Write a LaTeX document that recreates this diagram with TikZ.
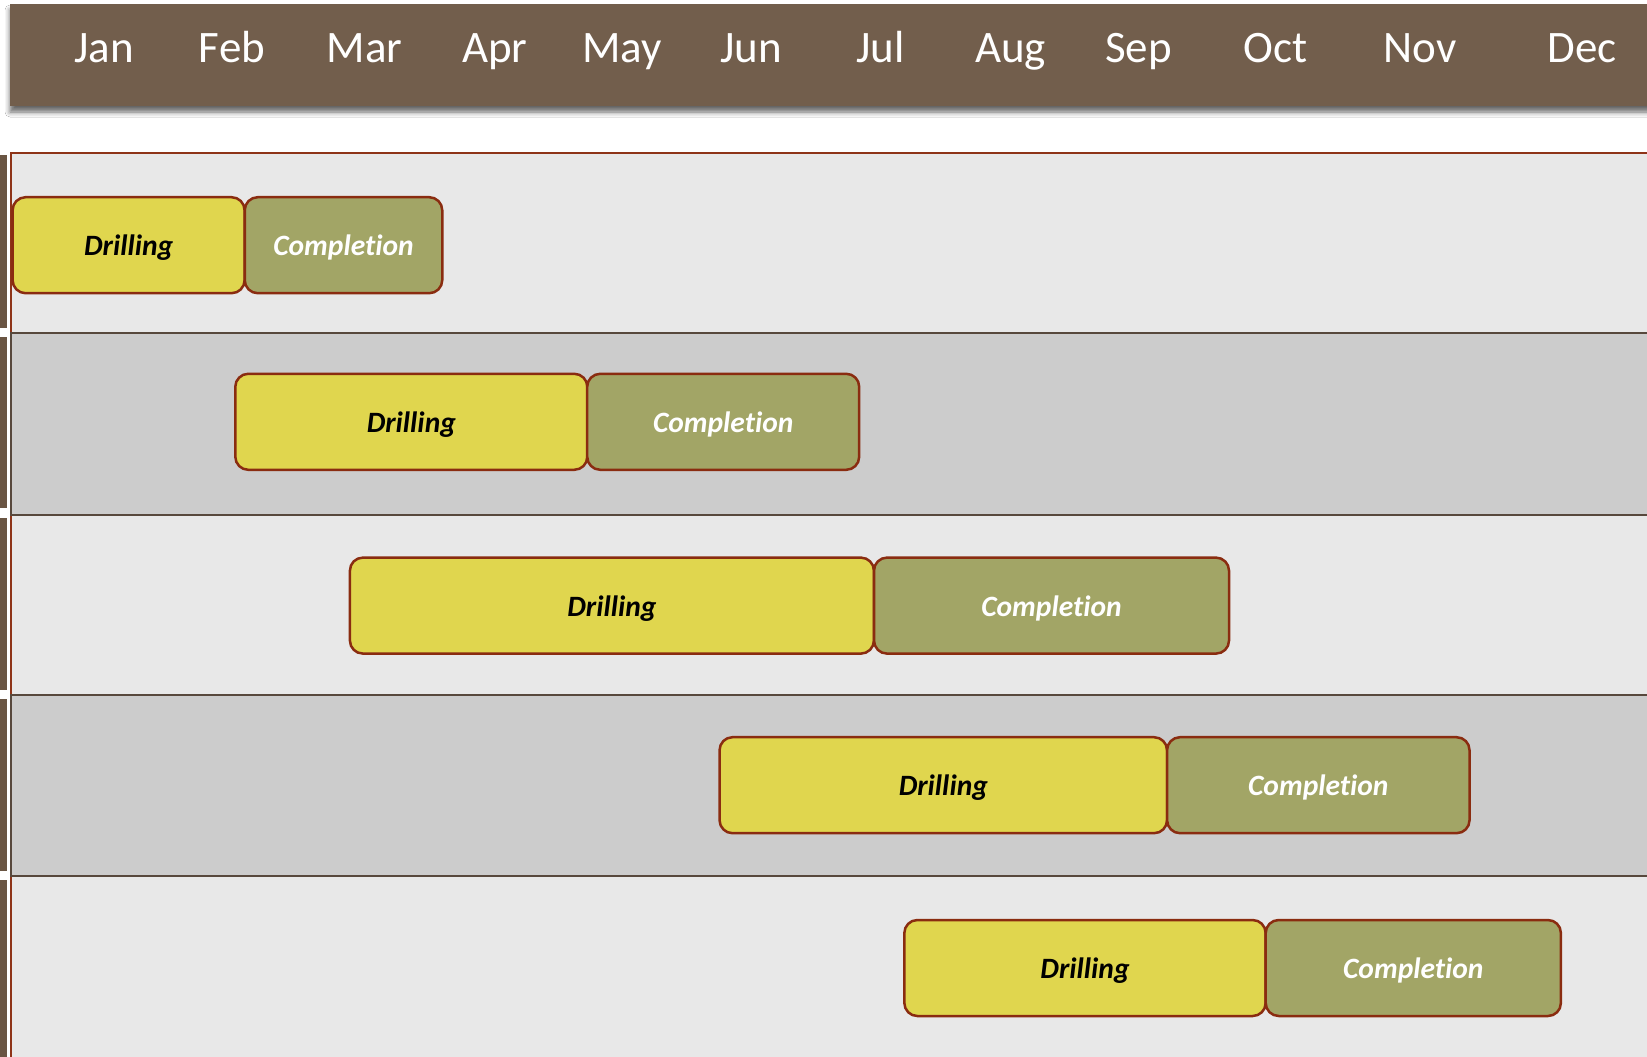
\documentclass[tikz,border=0pt]{standalone}
\usepackage{fontspec}
\setmainfont{Carlito}[Ligatures=NoCommon]
\usetikzlibrary{shadows.blur}
\definecolor{hdr}{HTML}{725E4C}
\definecolor{strip}{HTML}{6A5543}
\definecolor{rowlight}{HTML}{E8E8E8}
\definecolor{rowdark}{HTML}{CCCCCC}
\definecolor{redline}{HTML}{8E3418}
\definecolor{darkline}{HTML}{57483C}
\definecolor{drillfill}{HTML}{E0D64E}
\definecolor{compfill}{HTML}{A2A566}
\definecolor{barline}{HTML}{8A2C10}
\begin{document}
\begin{tikzpicture}[x=1pt,y=-1pt,
  month/.style={text=white,font=\fontsize{45}{48}\selectfont,inner sep=0pt,anchor=base},
  barbox/.style={draw=barline,line width=2.5pt,rounded corners=13pt,minimum height=96pt,inner sep=0pt,text height=21pt,text depth=0pt,font=\fontsize{29.5}{32}\selectfont\bfseries\itshape},
  drillbox/.style={barbox,fill=drillfill,text=black},
  compbox/.style={barbox,fill=compfill,text=white},
  lightrow/.style={fill=rowlight,draw=redline,line width=2pt},
  darkrow/.style={fill=rowdark,draw=darkline,line width=2.2pt},
  stripbox/.style={fill=strip}]
\useasboundingbox (0,0) rectangle (1647,1057);
\fill[white] (0,0) rectangle (1647,1057);
% header
\fill[hdr,blur shadow={shadow xshift=0pt,shadow yshift=-6pt,shadow blur radius=5pt,shadow opacity=60}] (10,4) rectangle (1660,106);
\node[month] (m1) at (104,63) {Jan};
\node[month] (m2) at (232,63) {Feb};
\node[month] (m3) at (364.5,63) {Mar};
\node[month] (m4) at (494.7,63) {Apr};
\node[month] (m5) at (621.8,63) {May};
\node[month] (m6) at (751,63) {Jun};
\node[month] (m7) at (880.2,63) {Jul};
\node[month] (m8) at (1010.5,63) {Aug};
\node[month] (m9) at (1138.6,63) {Sep};
\node[month] (m10) at (1275.2,63) {Oct};
\node[month] (m11) at (1420.1,63) {Nov};
\node[month] (m12) at (1581.9,63) {Dec};
% rows
\draw[lightrow] (11,153) rectangle (1670,333);
\draw[lightrow] (11,515) rectangle (1670,695);
\draw[lightrow] (11,876) rectangle (1670,1075);
\draw[darkrow] (11,333) rectangle (1670,515);
\draw[darkrow] (11,695) rectangle (1670,876);
% left strips
\fill[stripbox] (0,155) rectangle (7,328);
\fill[stripbox] (0,337) rectangle (7,508);
\fill[stripbox] (0,518) rectangle (7,690);
\fill[stripbox] (0,699) rectangle (7,871);
\fill[stripbox] (0,880) rectangle (7,1057);
% bars
\node[drillbox,minimum width=232pt] (d1) at (128.6,245.2) {Drilling};
\node[compbox,minimum width=197.5pt] (c1) at (343.5,245.2) {Completion};
\node[drillbox,minimum width=352pt] (d2) at (411.3,421.8) {Drilling};
\node[compbox,minimum width=272pt] (c2) at (723.2,421.8) {Completion};
\node[drillbox,minimum width=524pt] (d3) at (611.9,605.6) {Drilling};
\node[compbox,minimum width=355pt] (c3) at (1051.5,605.6) {Completion};
\node[drillbox,minimum width=447.5pt] (d4) at (943.3,785.2) {Drilling};
\node[compbox,minimum width=302.5pt] (c4) at (1318.3,785.2) {Completion};
\node[drillbox,minimum width=361.3pt] (d5) at (1085,968) {Drilling};
\node[compbox,minimum width=295.2pt] (c5) at (1413.3,968) {Completion};
\end{tikzpicture}
\end{document}
